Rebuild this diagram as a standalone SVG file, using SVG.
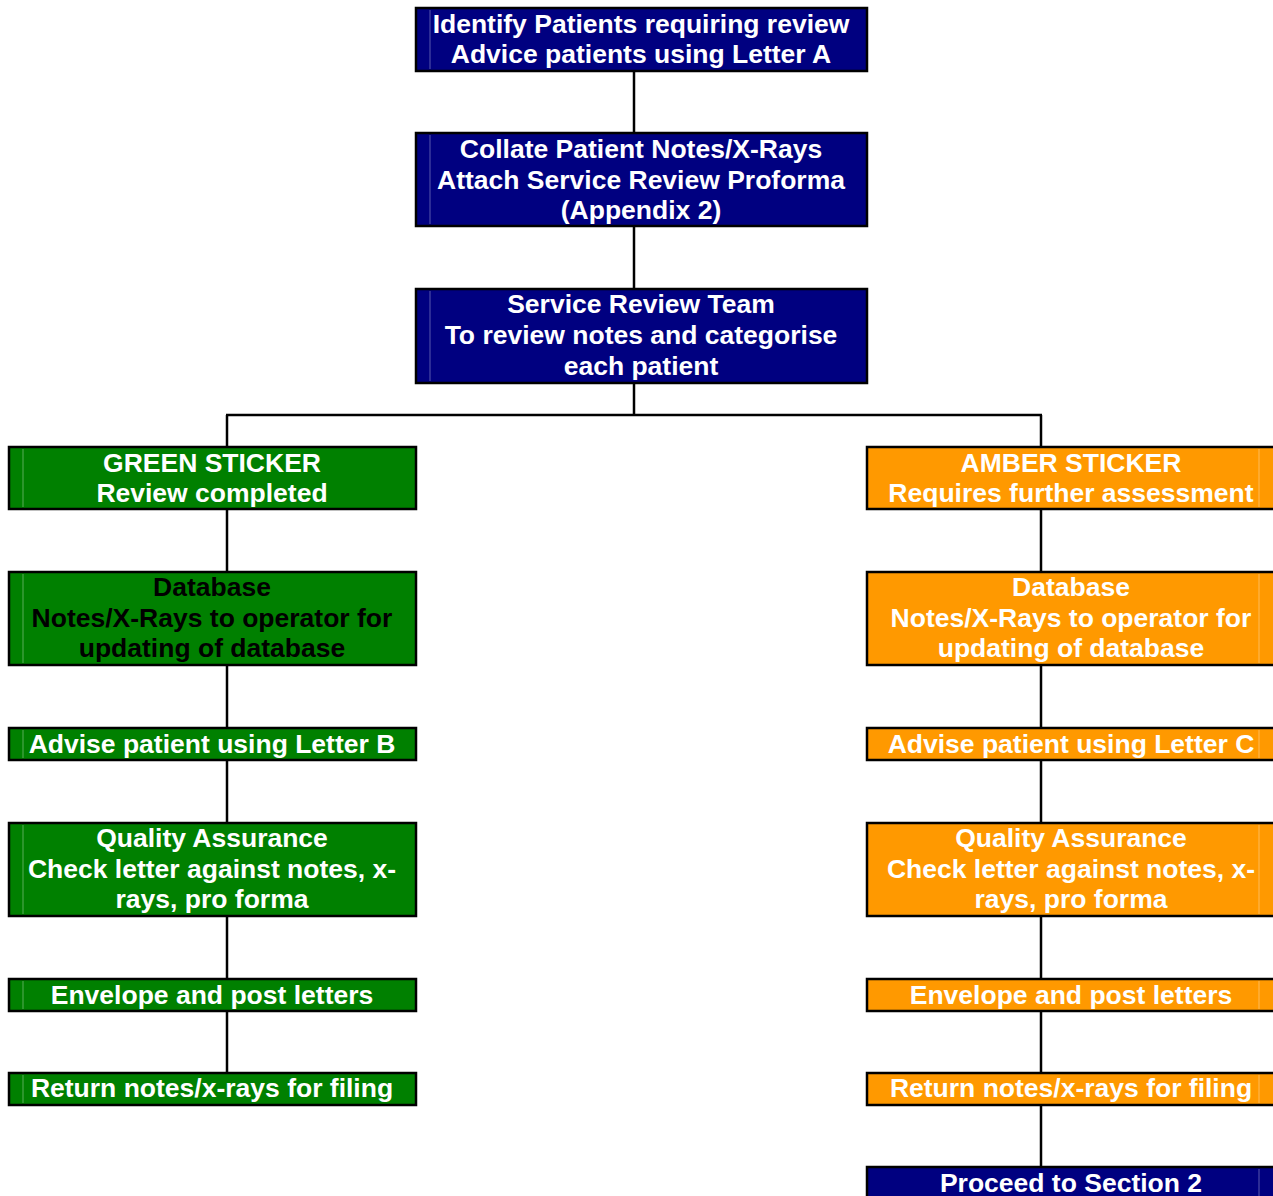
<svg xmlns="http://www.w3.org/2000/svg" width="1273" height="1196" viewBox="0 0 1273 1196">
<style>
.box{stroke:#000;stroke-width:2.5}
.blue{fill:#000080}
.green{fill:#008000}
.amber{fill:#FF9900}
.hl{stroke:#ffffff;stroke-opacity:0.35;stroke-width:1}
text{font-family:"Liberation Sans",Arial,sans-serif;font-weight:bold;font-size:26.5px;text-anchor:middle;fill:#fff}
text.dark{fill:#000}
.conn line{stroke:#000;stroke-width:2.5}
</style>
<rect width="1273" height="1196" fill="#fff"/>
<g class="conn">
<line x1="634" y1="71" x2="634" y2="133"/>
<line x1="634" y1="226" x2="634" y2="289"/>
<line x1="634" y1="383" x2="634" y2="415"/>
<line x1="226" y1="415" x2="1042" y2="415"/>
<line x1="227" y1="415" x2="227" y2="447"/>
<line x1="227" y1="509" x2="227" y2="572"/>
<line x1="227" y1="665" x2="227" y2="728"/>
<line x1="227" y1="760" x2="227" y2="823"/>
<line x1="227" y1="916" x2="227" y2="979"/>
<line x1="227" y1="1011" x2="227" y2="1073"/>
<line x1="1041" y1="415" x2="1041" y2="447"/>
<line x1="1041" y1="509" x2="1041" y2="572"/>
<line x1="1041" y1="665" x2="1041" y2="728"/>
<line x1="1041" y1="760" x2="1041" y2="823"/>
<line x1="1041" y1="916" x2="1041" y2="979"/>
<line x1="1041" y1="1011" x2="1041" y2="1073"/>
<line x1="1041" y1="1105" x2="1041" y2="1167"/>
</g>
<g id="identify">
<rect class="box blue" x="416" y="8" width="451" height="63"/>
<line class="hl" x1="430" y1="10" x2="430" y2="69"/>
<text x="641" y="33">Identify Patients requiring review</text>
<text x="641" y="63">Advice patients using Letter A</text>
</g>
<g id="collate">
<rect class="box blue" x="416" y="133" width="451" height="93"/>
<line class="hl" x1="430" y1="135" x2="430" y2="224"/>
<text x="641" y="158">Collate Patient Notes/X-Rays</text>
<text x="641" y="189">Attach Service Review Proforma</text>
<text x="641" y="219">(Appendix 2)</text>
</g>
<g id="team">
<rect class="box blue" x="416" y="289" width="451" height="94"/>
<line class="hl" x1="430" y1="291" x2="430" y2="381"/>
<text x="641" y="313">Service Review Team</text>
<text x="641" y="344">To review notes and categorise</text>
<text x="641" y="375">each patient</text>
</g>
<g id="green-sticker">
<rect class="box green" x="9" y="447" width="407" height="62"/>
<line class="hl" x1="23" y1="449" x2="23" y2="507"/>
<text x="212" y="472">GREEN STICKER</text>
<text x="212" y="502">Review completed</text>
</g>
<g id="green-database">
<rect class="box green" x="9" y="572" width="407" height="93"/>
<line class="hl" x1="23" y1="574" x2="23" y2="663"/>
<text class="dark" x="212" y="596">Database</text>
<text class="dark" x="212" y="627">Notes/X-Rays to operator for</text>
<text class="dark" x="212" y="657">updating of database</text>
</g>
<g id="green-advise">
<rect class="box green" x="9" y="728" width="407" height="32"/>
<line class="hl" x1="23" y1="730" x2="23" y2="758"/>
<text x="212" y="753">Advise patient using Letter B</text>
</g>
<g id="green-qa">
<rect class="box green" x="9" y="823" width="407" height="93"/>
<line class="hl" x1="23" y1="825" x2="23" y2="914"/>
<text x="212" y="847">Quality Assurance</text>
<text x="212" y="878">Check letter against notes, x-</text>
<text x="212" y="908">rays, pro forma</text>
</g>
<g id="green-envelope">
<rect class="box green" x="9" y="979" width="407" height="32"/>
<line class="hl" x1="23" y1="981" x2="23" y2="1009"/>
<text x="212" y="1004">Envelope and post letters</text>
</g>
<g id="green-return">
<rect class="box green" x="9" y="1073" width="407" height="32"/>
<line class="hl" x1="23" y1="1075" x2="23" y2="1103"/>
<text x="212" y="1097">Return notes/x-rays for filing</text>
</g>
<g id="amber-sticker">
<rect class="box amber" x="867" y="447" width="410" height="62"/>
<line class="hl" x1="1259" y1="449" x2="1259" y2="507"/>
<text x="1071" y="472">AMBER STICKER</text>
<text x="1071" y="502">Requires further assessment</text>
</g>
<g id="amber-database">
<rect class="box amber" x="867" y="572" width="410" height="93"/>
<line class="hl" x1="1259" y1="574" x2="1259" y2="663"/>
<text x="1071" y="596">Database</text>
<text x="1071" y="627">Notes/X-Rays to operator for</text>
<text x="1071" y="657">updating of database</text>
</g>
<g id="amber-advise">
<rect class="box amber" x="867" y="728" width="410" height="32"/>
<line class="hl" x1="1259" y1="730" x2="1259" y2="758"/>
<text x="1071" y="753">Advise patient using Letter C</text>
</g>
<g id="amber-qa">
<rect class="box amber" x="867" y="823" width="410" height="93"/>
<line class="hl" x1="1259" y1="825" x2="1259" y2="914"/>
<text x="1071" y="847">Quality Assurance</text>
<text x="1071" y="878">Check letter against notes, x-</text>
<text x="1071" y="908">rays, pro forma</text>
</g>
<g id="amber-envelope">
<rect class="box amber" x="867" y="979" width="410" height="32"/>
<line class="hl" x1="1259" y1="981" x2="1259" y2="1009"/>
<text x="1071" y="1004">Envelope and post letters</text>
</g>
<g id="amber-return">
<rect class="box amber" x="867" y="1073" width="410" height="32"/>
<line class="hl" x1="1259" y1="1075" x2="1259" y2="1103"/>
<text x="1071" y="1097">Return notes/x-rays for filing</text>
</g>
<g id="proceed">
<rect class="box blue" x="867" y="1167" width="410" height="40"/>
<line class="hl" x1="1259" y1="1169" x2="1259" y2="1196"/>
<text x="1071" y="1192">Proceed to Section 2</text>
</g>
</svg>
